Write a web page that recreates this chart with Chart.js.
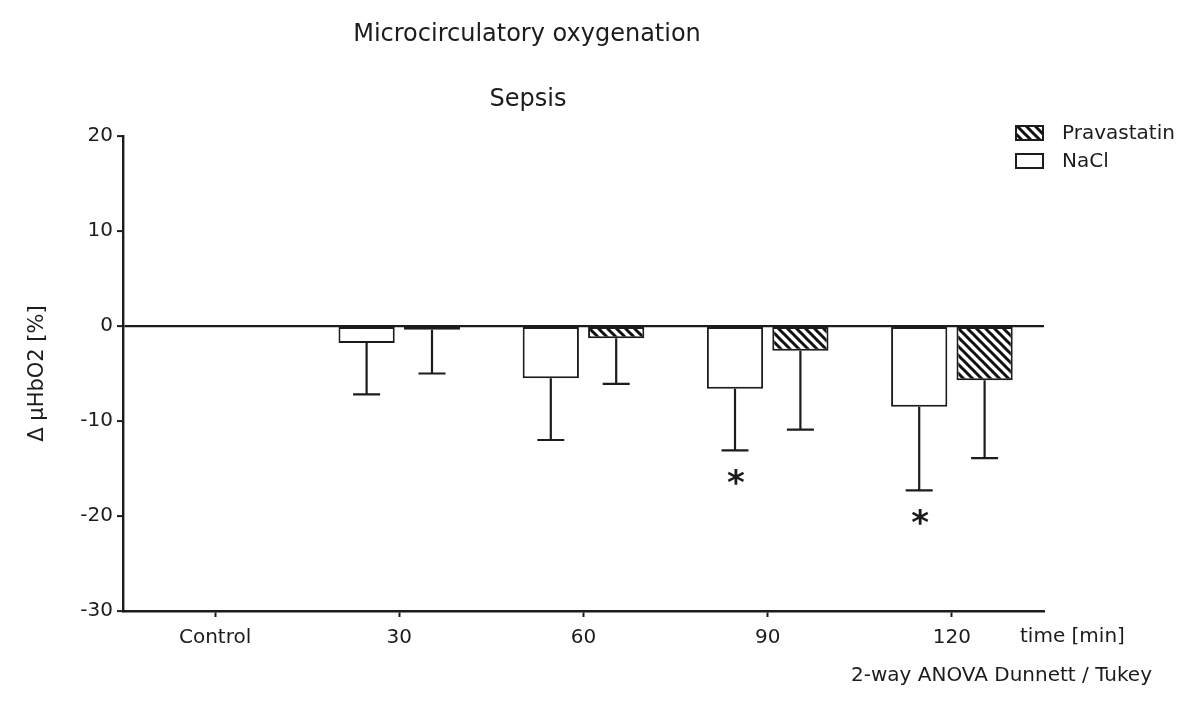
<!DOCTYPE html>
<html>
<head>
<meta charset="utf-8">
<script src="https://cdn.jsdelivr.net/npm/chart.js@4"></script>
<style>
  html, body { margin: 0; padding: 0; background: #fff; }
  #wrap { width: 1200px; height: 707px; }
</style>
</head>
<body>
<div id="wrap"><canvas id="c" width="1200" height="707"></canvas></div>
<script>
// ---- data ----
const categories = ['Control', '30', '60', '90', '120'];
const naclMean = [null, -1.8, -5.5, -6.6, -8.5];
const naclSD   = [null, 5.4, 6.5, 6.5, 8.8];
const pravaMean = [null, -0.4, -1.3, -2.6, -5.7];
const pravaSD   = [null, 4.6, 4.8, 8.3, 8.2];
const naclSignif = ['', '', '', '*', '*'];
const yTicks = [-30, -20, -10, 0, 10, 20];

const FONT = 'DejaVu Sans';
const INK = '#1c1c1c';

// hatch pattern (\\\ stripes)
function makeHatch() {
  const s = 9;
  const c = document.createElement('canvas');
  c.width = s; c.height = s;
  const g = c.getContext('2d');
  g.fillStyle = '#fff'; g.fillRect(0, 0, s, s);
  g.strokeStyle = '#111'; g.lineWidth = 3;
  g.beginPath();
  g.moveTo(-2, -2); g.lineTo(s + 2, s + 2);
  g.moveTo(-2, s - 2); g.lineTo(2, s + 2);
  g.moveTo(s - 2, -2); g.lineTo(s + 2, 2);
  g.stroke();
  return document.getElementById('c').getContext('2d').createPattern(c, 'repeat');
}
const hatch = makeHatch();

const errorBars = {
  id: 'errorBars',
  afterDatasetsDraw(chart) {
    const ctx = chart.ctx;
    const ys = chart.scales.y;
    ctx.save();
    ctx.strokeStyle = INK;
    ctx.lineWidth = 2.2;
    chart.data.datasets.forEach((ds, i) => {
      const meta = chart.getDatasetMeta(i);
      meta.data.forEach((el, j) => {
        const m = ds.data[j], sd = ds.sd[j];
        if (m === null || sd === null) return;
        const y0 = ys.getPixelForValue(m);
        const y1 = ys.getPixelForValue(m - sd);
        ctx.beginPath();
        ctx.moveTo(el.x, y0); ctx.lineTo(el.x, y1);
        ctx.moveTo(el.x - 13.5, y1); ctx.lineTo(el.x + 13.5, y1);
        ctx.stroke();
        if (ds.signif && ds.signif[j]) {
          ctx.fillStyle = INK;
          ctx.font = 'bold 34px ' + FONT;
          ctx.textAlign = 'center';
          ctx.textBaseline = 'middle';
          ctx.fillText(ds.signif[j], el.x + 1, y1 + 35);
        }
      });
    });
    ctx.restore();
  }
};

const annotations = {
  id: 'annotations',
  afterDraw(chart) {
    const ctx = chart.ctx;
    ctx.save();
    ctx.fillStyle = INK;
    ctx.textBaseline = 'middle';
    ctx.textAlign = 'center';
    ctx.font = '24px ' + FONT;
    ctx.fillText('Microcirculatory oxygenation', 527, 35);
    ctx.fillText('Sepsis', 528, 100);
    ctx.font = '20px ' + FONT;
    ctx.textAlign = 'left';
    ctx.fillText('time [min]', 1020, 637);
    ctx.textAlign = 'right';
    ctx.font = '20px ' + FONT;
    ctx.fillText('2-way ANOVA Dunnett / Tukey', 1152, 676);
    // legend (Pravastatin first, NaCl second)
    const order = [1, 0];
    order.forEach((di, k) => {
      const ds = chart.data.datasets[di];
      const by = 126 + k * 28;
      ctx.fillStyle = ds.backgroundColor;
      ctx.fillRect(1016, by, 27, 14);
      ctx.strokeStyle = INK; ctx.lineWidth = 2;
      ctx.strokeRect(1016, by, 27, 14);
      ctx.fillStyle = INK;
      ctx.font = '20px ' + FONT;
      ctx.textAlign = 'left';
      ctx.fillText(ds.label, 1062, by + 8);
    });
    ctx.restore();
  }
};

Chart.defaults.font.family = FONT;
Chart.defaults.color = INK;

new Chart(document.getElementById('c'), {
  type: 'bar',
  data: {
    labels: categories,
    datasets: [
      { label: 'NaCl', data: naclMean, sd: naclSD, signif: naclSignif,
        backgroundColor: '#ffffff', borderColor: INK, borderWidth: 2, borderSkipped: false },
      { label: 'Pravastatin', data: pravaMean, sd: pravaSD,
        backgroundColor: hatch, borderColor: INK, borderWidth: 2, borderSkipped: false }
    ]
  },
  options: {
    responsive: false,
    animation: false,
    devicePixelRatio: 1,
    categoryPercentage: 0.71,
    barPercentage: 0.86,
    layout: { padding: { top: 136, right: 156, bottom: 56, left: 22 } },
    plugins: {
      legend: { display: false },
      title: { display: false },
      tooltip: { enabled: false }
    },
    scales: {
      x: {
        offset: true,
        afterFit(s) { s.height = 40; },
        grid: { display: true, drawOnChartArea: false, offset: false, tickLength: 6, tickColor: INK, tickWidth: 2 },
        border: { display: true, color: INK, width: 2.4 },
        ticks: { font: { size: 20 }, color: INK, padding: 9 }
      },
      y: {
        min: -30, max: 20,
        afterBuildTicks(s) { s.ticks = yTicks.map(v => ({ value: v })); },
        afterFit(s) { s.width = 123 - 22; },
        grid: {
          drawOnChartArea: true,
          color: c => (c.tick && c.tick.value === 0 ? INK : 'rgba(0,0,0,0)'),
          lineWidth: 2.2,
          tickColor: INK, tickWidth: 2, tickLength: 6
        },
        border: { display: true, color: INK, width: 2.4 },
        ticks: { font: { size: 20 }, color: INK, padding: 4 },
        title: { display: true, text: 'Δ μHbO2 [%]', font: { size: 21 }, color: INK, padding: { top: 3, bottom: 4 } }
      }
    }
  },
  plugins: [errorBars, annotations]
});
</script>
</body>
</html>
